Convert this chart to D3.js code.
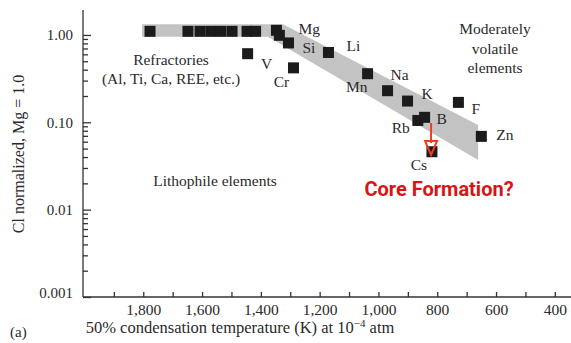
<!DOCTYPE html>
<html>
<head>
<meta charset="utf-8">
<script src="https://cdn.jsdelivr.net/npm/d3@7/dist/d3.min.js"></script>
<style>
  html, body { margin: 0; padding: 0; background: #fff; }
  svg { display: block; }
  text { font-family: "Liberation Serif", "Times New Roman", serif; fill: #2a2a2a; }
</style>
</head>
<body>
<svg id="chart" width="571" height="343"></svg>
<script>
// Element abundances in the bulk silicate Earth (CI normalized, Mg = 1)
// against 50% condensation temperature.
const elements = ["", "", "", "", "", "", "", "", "Mg", "", "Si", "V", "Cr", "Li", "Mn", "Na", "K", "F", "Rb", "B", "Zn", "Cs"];
const condensationTemps = [1777, 1648, 1607, 1570, 1536, 1498, 1447, 1418, 1347, 1337, 1306, 1445, 1289, 1170, 1037, 969, 901, 728, 866, 843, 650, 818];
const ciNormalized = [1.1, 1.1, 1.1, 1.1, 1.1, 1.1, 1.1, 1.1, 1.13, 0.99, 0.81, 0.61, 0.42, 0.63, 0.36, 0.23, 0.175, 0.169, 0.105, 0.114, 0.069, 0.046];

// Volatility trend band (temperature, normalized abundance) outline
const bandTemps = [1804, 1325, 661, 661, 1376, 1804];
const bandValues = [1.33, 1.33, 0.093, 0.037, 0.956, 0.956];

// Axis ticks
const xTickValues = [1900, 1800, 1700, 1600, 1500, 1400, 1300, 1200, 1100, 1000, 900, 800, 700, 600, 500, 400];
const xTickLabels = ["", "1,800", "", "1,600", "", "1,400", "", "1,200", "", "1,000", "", "800", "", "600", "", "400"];
const yTickValues = [0.001, 0.01, 0.1, 1];
const yTickLabels = ["0.001", "0.01", "0.10", "1.00"];

// Core-formation arrow from the trend down to Cs
const arrowTemp = 821;
const arrowFrom = 0.098;
const arrowTo = 0.0423;

const svg = d3.select("#chart");

const x = d3.scaleLinear().domain([2005, 345]).range([83, 571]);
const y = d3.scaleLog().domain([0.001, 1.93]).range([297, 10]);

// Trend band
const bandPts = bandTemps.map((t, i) => [x(t), y(bandValues[i])]);
svg.append("path")
  .attr("d", d3.line()(bandPts) + "Z")
  .attr("fill", "#c3c3c3");

// Axes
const xAxis = d3.axisBottom(x)
  .tickValues(xTickValues)
  .tickSize(-5)
  .tickPadding(7)
  .tickFormat((d, i) => xTickLabels[i]);
const gx = svg.append("g").attr("transform", "translate(0,297)").call(xAxis);
gx.select(".domain").attr("d", "M83,0H571");

const minorY = [];
[0.001, 0.01, 0.1].forEach(dec => { for (let k = 2; k <= 9; k++) minorY.push(dec * k); });
svg.append("g").attr("transform", "translate(83,0)")
  .call(d3.axisLeft(y).tickValues(minorY).tickSize(-5).tickFormat(""))
  .call(g => g.select(".domain").remove());

const yAxis = d3.axisLeft(y)
  .tickValues(yTickValues)
  .tickSize(-8)
  .tickPadding(10)
  .tickFormat((d, i) => yTickLabels[i]);
const gy = svg.append("g").attr("transform", "translate(83,0)").call(yAxis);
gy.select(".domain").attr("d", "M0,297V10");
gy.selectAll(".tick text").filter(d => d === 0.001).attr("dy", "0.0em");

svg.selectAll(".domain, .tick line").attr("stroke", "#333").attr("stroke-width", 1.3);
svg.selectAll(".tick text")
  .attr("font-family", "Liberation Serif, Times New Roman, serif")
  .attr("font-size", 15)
  .attr("fill", "#2a2a2a");
gx.selectAll(".tick text").attr("font-size", 15.5);

// Data squares
const pts = condensationTemps.map((t, i) => ({ t, v: ciNormalized[i], el: elements[i] }));
const S = 11;
svg.append("g").selectAll("rect").data(pts).join("rect")
  .attr("x", d => x(d.t) - S / 2)
  .attr("y", d => y(d.v) - S / 2)
  .attr("width", S)
  .attr("height", S)
  .attr("fill", "#1b1b1b");

// Element labels placed beside their squares
const labelPlace = {
  Mg: ["start", 22, 4], Si: ["start", 14, 10], V: ["middle", 19, 15], Cr: ["middle", -12, 19],
  Li: ["start", 18, -1], Mn: ["end", 0, 18], Na: ["start", 3, -11], K: ["start", 14, -2],
  F: ["start", 13, 12], Rb: ["end", -8, 13], B: ["start", 12, 7], Zn: ["start", 15, 4],
  Cs: ["middle", -13, 18]
};
svg.append("g").selectAll("text").data(pts.filter(d => d.el)).join("text")
  .attr("x", d => x(d.t) + labelPlace[d.el][1])
  .attr("y", d => y(d.v) + labelPlace[d.el][2])
  .attr("text-anchor", d => labelPlace[d.el][0])
  .attr("font-size", 15.5)
  .text(d => d.el);

// Group annotations
const note = (txt, cx, by, anchor = "middle", size = 15.5) =>
  svg.append("text").attr("x", cx).attr("y", by).attr("text-anchor", anchor)
    .attr("font-size", size).text(txt);
note("Refractories", 171, 65);
note("(Al, Ti, Ca, REE, etc.)", 171, 84);
note("Moderately", 495, 34);
note("volatile", 495, 54);
note("elements", 495, 73);
note("Lithophile elements", 215, 186);

// Core formation arrow
const ax = x(arrowTemp), ay0 = y(arrowFrom), ay1 = y(arrowTo);
svg.append("line")
  .attr("x1", ax).attr("x2", ax).attr("y1", ay0).attr("y2", ay1 - 12)
  .attr("stroke", "#ee3b24").attr("stroke-width", 2);
svg.append("path")
  .attr("d", `M${ax - 6},${ay1 - 14}L${ax + 6},${ay1 - 14}L${ax},${ay1}Z`)
  .attr("fill", "none").attr("stroke", "#ee3b24").attr("stroke-width", 2)
  .attr("stroke-linejoin", "miter");

svg.append("text")
  .attr("x", 439).attr("y", 196)
  .attr("text-anchor", "middle")
  .attr("font-weight", "bold")
  .attr("font-size", 20)
  .style("font-family", "Roboto, 'Open Sans', sans-serif")
  .style("fill", "#d91414")
  .text("Core Formation?");

// Axis titles
svg.append("text")
  .attr("transform", "translate(24,154) rotate(-90)")
  .attr("text-anchor", "middle")
  .attr("font-size", 16)
  .text("Cl normalized, Mg = 1.0");

const xt = svg.append("text")
  .attr("x", 240).attr("y", 333)
  .attr("text-anchor", "middle")
  .attr("font-size", 16.5);
xt.append("tspan").text("50% condensation temperature (K) at 10");
xt.append("tspan").attr("dy", -6).attr("font-size", 11).text("\u22124");
xt.append("tspan").attr("dy", 6).text(" atm");

svg.append("text").attr("x", 10).attr("y", 337).attr("font-size", 15).text("(a)");
</script>
</body>
</html>
